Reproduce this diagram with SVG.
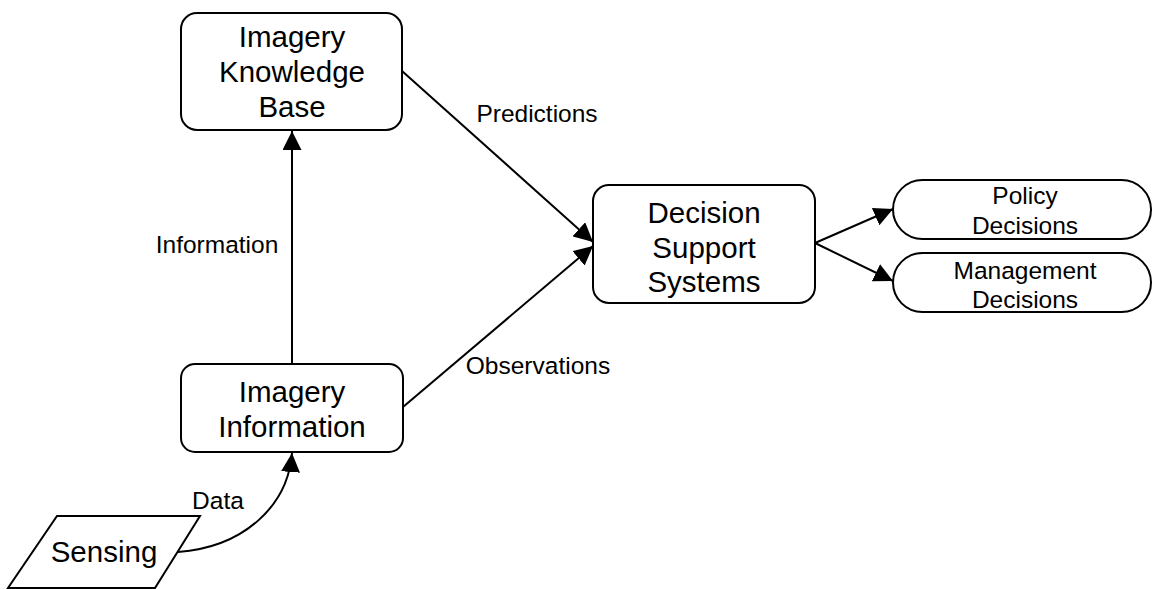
<svg xmlns="http://www.w3.org/2000/svg" width="1152" height="589" viewBox="0 0 1152 589">
  <style>
    .shape { fill: #ffffff; stroke: #000000; stroke-width: 2; }
    .edge { fill: none; stroke: #000000; stroke-width: 2; }
    text { font-family: "Liberation Sans", Arial, sans-serif; fill: #000000; text-anchor: middle; }
    .big { font-size: 29.5px; }
    .small { font-size: 24.5px; }
    .label { font-size: 24.5px; }
  </style>
  <defs>
    <marker id="arrow" markerUnits="userSpaceOnUse" markerWidth="19" markerHeight="19" refX="19" refY="9.5" orient="auto">
      <path d="M0,0 L19,9.5 L0,19 Z" fill="#000000"/>
    </marker>
  </defs>
  <rect width="1152" height="589" fill="#ffffff"/>

  <!-- connectors -->
  <g id="connectors">
    <line class="edge" x1="292" y1="364" x2="292" y2="131" marker-end="url(#arrow)"/>
    <line class="edge" x1="402" y1="71" x2="593" y2="242" marker-end="url(#arrow)"/>
    <line class="edge" x1="403" y1="407" x2="593" y2="246" marker-end="url(#arrow)"/>
    <path class="edge" d="M178,552 C245,547 288,505 292,453" marker-end="url(#arrow)"/>
    <line class="edge" x1="815" y1="243" x2="893" y2="209" marker-end="url(#arrow)"/>
    <line class="edge" x1="815" y1="243" x2="893" y2="281" marker-end="url(#arrow)"/>
    <text class="label" x="217" y="253">Information</text>
    <text class="label" x="537" y="122">Predictions</text>
    <text class="label" x="538" y="374">Observations</text>
    <text class="label" x="218" y="509">Data</text>
  </g>

  <g id="knowledge-base">
    <rect class="shape" x="181" y="13" width="221" height="117" rx="16"/>
    <text class="big" x="292" y="47">Imagery</text>
    <text class="big" x="292" y="82">Knowledge</text>
    <text class="big" x="292" y="117">Base</text>
  </g>

  <g id="imagery-information">
    <rect class="shape" x="181" y="364" width="222" height="88" rx="14"/>
    <text class="big" x="292" y="402">Imagery</text>
    <text class="big" x="292" y="437">Information</text>
  </g>

  <g id="sensing">
    <polygon class="shape" points="57,516 200,516 155,588 8,588"/>
    <text class="big" x="104" y="562">Sensing</text>
  </g>

  <g id="decision-support">
    <rect class="shape" x="593" y="185" width="222" height="118" rx="16"/>
    <text class="big" x="704" y="223">Decision</text>
    <text class="big" x="704" y="258">Support</text>
    <text class="big" x="704" y="292">Systems</text>
  </g>

  <g id="policy-decisions">
    <rect class="shape" x="893" y="180" width="258" height="59" rx="29.5"/>
    <text class="small" x="1025" y="204">Policy</text>
    <text class="small" x="1025" y="234">Decisions</text>
  </g>

  <g id="management-decisions">
    <rect class="shape" x="893" y="253" width="258" height="59" rx="29.5"/>
    <text class="small" x="1025" y="279">Management</text>
    <text class="small" x="1025" y="308">Decisions</text>
  </g>
</svg>
